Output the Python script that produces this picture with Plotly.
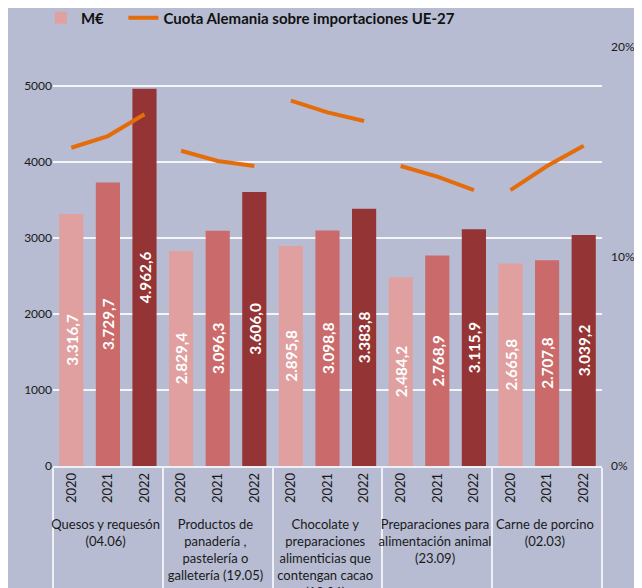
import plotly.graph_objects as go

groups = [
    "Quesos y requesón<br>(04.06)",
    "Productos de<br>panadería ,<br>pastelería o<br>galletería (19.05)",
    "Chocolate y<br>preparaciones<br>alimenticias que<br>contengan cacao<br>(18.06)",
    "Preparaciones para<br>alimentación animal<br>(23.09)",
    "Carne de porcino<br>(02.03)",
]
years = ["2020", "2021", "2022"]
meur = [
    [3316.7, 3729.7, 4962.6],
    [2829.4, 3096.3, 3606.0],
    [2895.8, 3098.8, 3383.8],
    [2484.2, 2768.9, 3115.9],
    [2665.8, 2707.8, 3039.2],
]
cuota = [
    [0.1519, 0.1575, 0.1679],
    [0.1505, 0.1456, 0.1432],
    [0.1744, 0.1688, 0.1647],
    [0.1432, 0.1381, 0.1317],
    [0.1317, 0.1432, 0.1529],
]
year_colors = ["#e0a0a0", "#cb6a6a", "#943434"]

FONT = "Lato"
x_outer, x_inner, yv, cols = [], [], [], []
for g, vals in zip(groups, meur):
    for yr, v, c in zip(years, vals, year_colors):
        x_outer.append(g)
        x_inner.append(yr)
        yv.append(v)
        cols.append(c)

fig = go.Figure()
fig.add_trace(go.Bar(
    x=[x_outer, x_inner], y=yv, name="M€\u00a0\u00a0\u00a0\u00a0",
    marker=dict(color=cols, line=dict(width=0)),
    text=yv, texttemplate="%{y:,.1f}", textposition="inside",
    insidetextanchor="middle", textangle=-90,
    textfont=dict(family=FONT, size=16, color="white", weight="bold"),
    showlegend=True,
))

for i, (g, vals) in enumerate(zip(groups, cuota)):
    fig.add_trace(go.Scatter(
        x=[[g] * 3, years], y=vals, mode="lines", yaxis="y2",
        name="Cuota Alemania sobre importaciones UE-27",
        line=dict(color="#e46c0a", width=4),
        legendgroup="cuota", showlegend=(i == 0),
    ))

bg = "#b7bcd2"
fig.update_layout(
    width=634, height=580,
    paper_bgcolor=bg, plot_bgcolor=bg,
    margin=dict(l=45, r=40, t=39, b=122, autoexpand=False),
    separators=",.",
    bargap=0.34,
    font=dict(family=FONT, size=12, color="#1a1a1a"),
    legend=dict(
        orientation="h", x=-0.022, xanchor="left", y=1.069, yanchor="middle",
        font=dict(family=FONT, size=15, color="#111111", weight="bold"),
        bgcolor="rgba(0,0,0,0)", itemwidth=30,
    ),
    xaxis=dict(
        type="multicategory", showgrid=False, automargin=False,
        showline=True, linecolor="#eef0f6", linewidth=1.5,
        showdividers=True, dividercolor="#eef0f6", dividerwidth=1.5,
        tickangle=-90, ticks="",
        tickfont=dict(family=FONT, size=13, color="#1a1a1a"),
    ),
    yaxis=dict(
        range=[0, 5513], dtick=1000, tick0=0, automargin=False,
        showgrid=True, gridcolor="#f4f5f9", gridwidth=2,
        zeroline=False, showline=False, ticks="",
        tickfont=dict(family=FONT, size=12, color="#1a1a1a"),
    ),
    yaxis2=dict(
        overlaying="y", side="right", range=[0, 0.2], dtick=0.1,
        tickformat=".0%", showgrid=False, zeroline=False, showline=False,
        ticks="", ticklabelstandoff=8, automargin=False,
        tickfont=dict(family=FONT, size=12, color="#1a1a1a"),
    ),
)

fig.write_html("out.html")
